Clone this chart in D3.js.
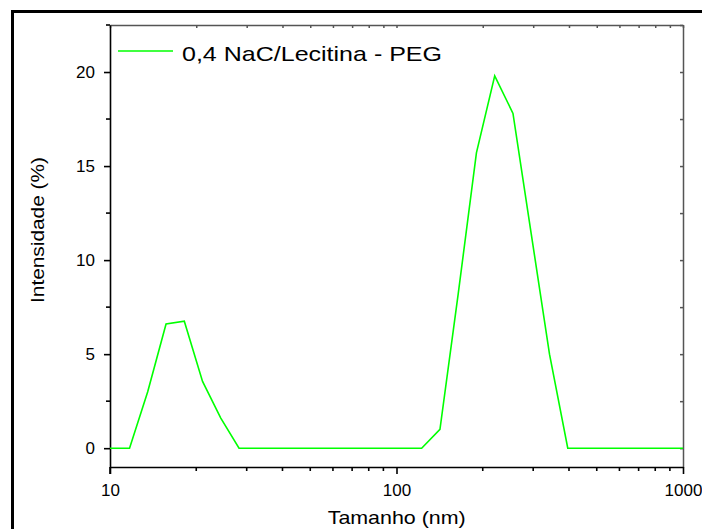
<!DOCTYPE html>
<html>
<head>
<meta charset="utf-8">
<script src="https://cdn.jsdelivr.net/npm/d3@7"></script>
<style>
  body { margin: 0; background: #fff; }
  svg { display: block; }
  text { font-family: "Liberation Sans", Arial, sans-serif; fill: #000; }
</style>
</head>
<body>
<div id="chart"></div>
<script>
// DLS size bins (nm) and intensity (%)
var tamanho = [8.721, 10.10, 11.70, 13.54, 15.69, 18.17, 21.04, 24.36, 28.21, 32.67, 37.84, 43.82,
  50.75, 58.77, 68.06, 78.82, 91.28, 105.7, 122.4, 141.8, 164.2, 190.1, 220.2, 255.0,
  295.3, 342.0, 396.1, 458.7, 531.2, 615.1, 712.4, 825.0, 955.4, 1106];
var intensidade = [0, 0, 0, 3.0, 6.6, 6.75, 3.55, 1.6, 0, 0, 0, 0,
  0, 0, 0, 0, 0, 0, 0, 1.0, 8.2, 15.7, 19.8, 17.8,
  11.4, 5.0, 0, 0, 0, 0, 0, 0, 0, 0];
var serieNome = "0,4 NaC/Lecitina - PEG";
var xTicks = [10, 100, 1000];
var yTicks = [0, 5, 10, 15, 20];
var yMinor = [2.5, 7.5, 12.5, 17.5, 22.5];

var w = 702, h = 529;
var margin = { top: 25, right: 19, bottom: 62, left: 110 };
var pw = w - margin.left - margin.right,
  ph = h - margin.top - margin.bottom;

var svg = d3.select('#chart').append('svg')
  .attr('width', w)
  .attr('height', h);

// outer frame
svg.append('rect')
  .attr('x', 12.5).attr('y', 11.5)
  .attr('width', 720).attr('height', 560)
  .attr('fill', 'none')
  .attr('stroke', '#000')
  .attr('stroke-width', 3);

var g = svg.append('g')
  .attr('transform', 'translate(' + margin.left + ',' + margin.top + ')');

var x = d3.scaleLog().domain([10, 1000]).range([0, pw]);
var y = d3.scaleLinear().domain([-1, 22.5]).range([ph, 0]);

var xMinor = [];
[10, 100].forEach(function(d) {
  for (var k = 2; k <= 9; k++) xMinor.push(d * k);
});

// top and right frame axes
var topAxis = g.append('g')
  .call(d3.axisTop(x).tickValues(xTicks.concat(xMinor)).tickSizeInner(-3).tickSizeOuter(0).tickFormat(''));
var rightAxis = g.append('g')
  .attr('transform', 'translate(' + pw + ',0)')
  .call(d3.axisRight(y).tickValues(yTicks.concat(yMinor)).tickSizeInner(-3).tickSizeOuter(0).tickFormat(''));
[topAxis, rightAxis].forEach(function(a) {
  a.selectAll('path, line').attr('stroke', '#555').attr('stroke-width', 1.5);
});

// bottom axis
var bottomAxis = g.append('g')
  .attr('transform', 'translate(0,' + ph + ')')
  .call(d3.axisBottom(x).tickValues(xTicks).tickSizeInner(7).tickSizeOuter(0).tickPadding(10)
    .tickFormat(d3.format('d')));
bottomAxis.selectAll('.minor')
  .data(xMinor).enter().append('line')
  .attr('class', 'minor')
  .attr('x1', function(d) { return x(d); })
  .attr('x2', function(d) { return x(d); })
  .attr('y1', 0).attr('y2', 4)
  .attr('stroke', '#000');

// left axis
var leftAxis = g.append('g')
  .call(d3.axisLeft(y).tickValues(yTicks).tickSizeInner(6).tickSizeOuter(0).tickPadding(9)
    .tickFormat(d3.format('d')));
leftAxis.selectAll('.minor')
  .data(yMinor).enter().append('line')
  .attr('class', 'minor')
  .attr('y1', function(d) { return y(d); })
  .attr('y2', function(d) { return y(d); })
  .attr('x1', 0).attr('x2', -4)
  .attr('stroke', '#000');

[bottomAxis, leftAxis].forEach(function(a) {
  a.selectAll('path, line').attr('stroke', '#000').attr('stroke-width', 1.6);
  a.selectAll('text').style('font-size', '17px').style('font-family', '"Liberation Sans", Arial, sans-serif');
});
// left axis line runs down to the bottom 10 tick
leftAxis.append('line')
  .attr('x1', 0).attr('x2', 0).attr('y1', ph).attr('y2', ph + 7)
  .attr('stroke', '#000').attr('stroke-width', 1.6);

// data line
g.append('clipPath').attr('id', 'clip')
  .append('rect').attr('width', pw).attr('height', ph);

var pontos = tamanho.map(function(d, i) { return [d, intensidade[i]]; });
var line = d3.line()
  .x(function(d) { return x(d[0]); })
  .y(function(d) { return y(d[1]); });

g.append('path')
  .datum(pontos)
  .attr('clip-path', 'url(#clip)')
  .attr('d', line)
  .attr('fill', 'none')
  .attr('stroke', '#00ff00')
  .attr('stroke-width', 1.6)
  .attr('stroke-linejoin', 'miter');

// legend
g.append('line')
  .attr('x1', 8).attr('x2', 63)
  .attr('y1', 26).attr('y2', 26)
  .attr('stroke', '#00ff00')
  .attr('stroke-width', 1.6);
g.append('text')
  .attr('x', 72).attr('y', 35.5)
  .attr('textLength', 260)
  .attr('lengthAdjust', 'spacingAndGlyphs')
  .style('font-size', '21px')
  .text(serieNome);

// axis titles
svg.append('text')
  .attr('x', 396.7)
  .attr('y', 524)
  .attr('text-anchor', 'middle')
  .attr('textLength', 138)
  .attr('lengthAdjust', 'spacingAndGlyphs')
  .style('font-size', '19px')
  .text('Tamanho (nm)');

svg.append('text')
  .attr('transform', 'translate(44,230) rotate(-90)')
  .attr('text-anchor', 'middle')
  .attr('textLength', 146)
  .attr('lengthAdjust', 'spacingAndGlyphs')
  .style('font-size', '19px')
  .text('Intensidade (%)');
</script>
</body>
</html>
